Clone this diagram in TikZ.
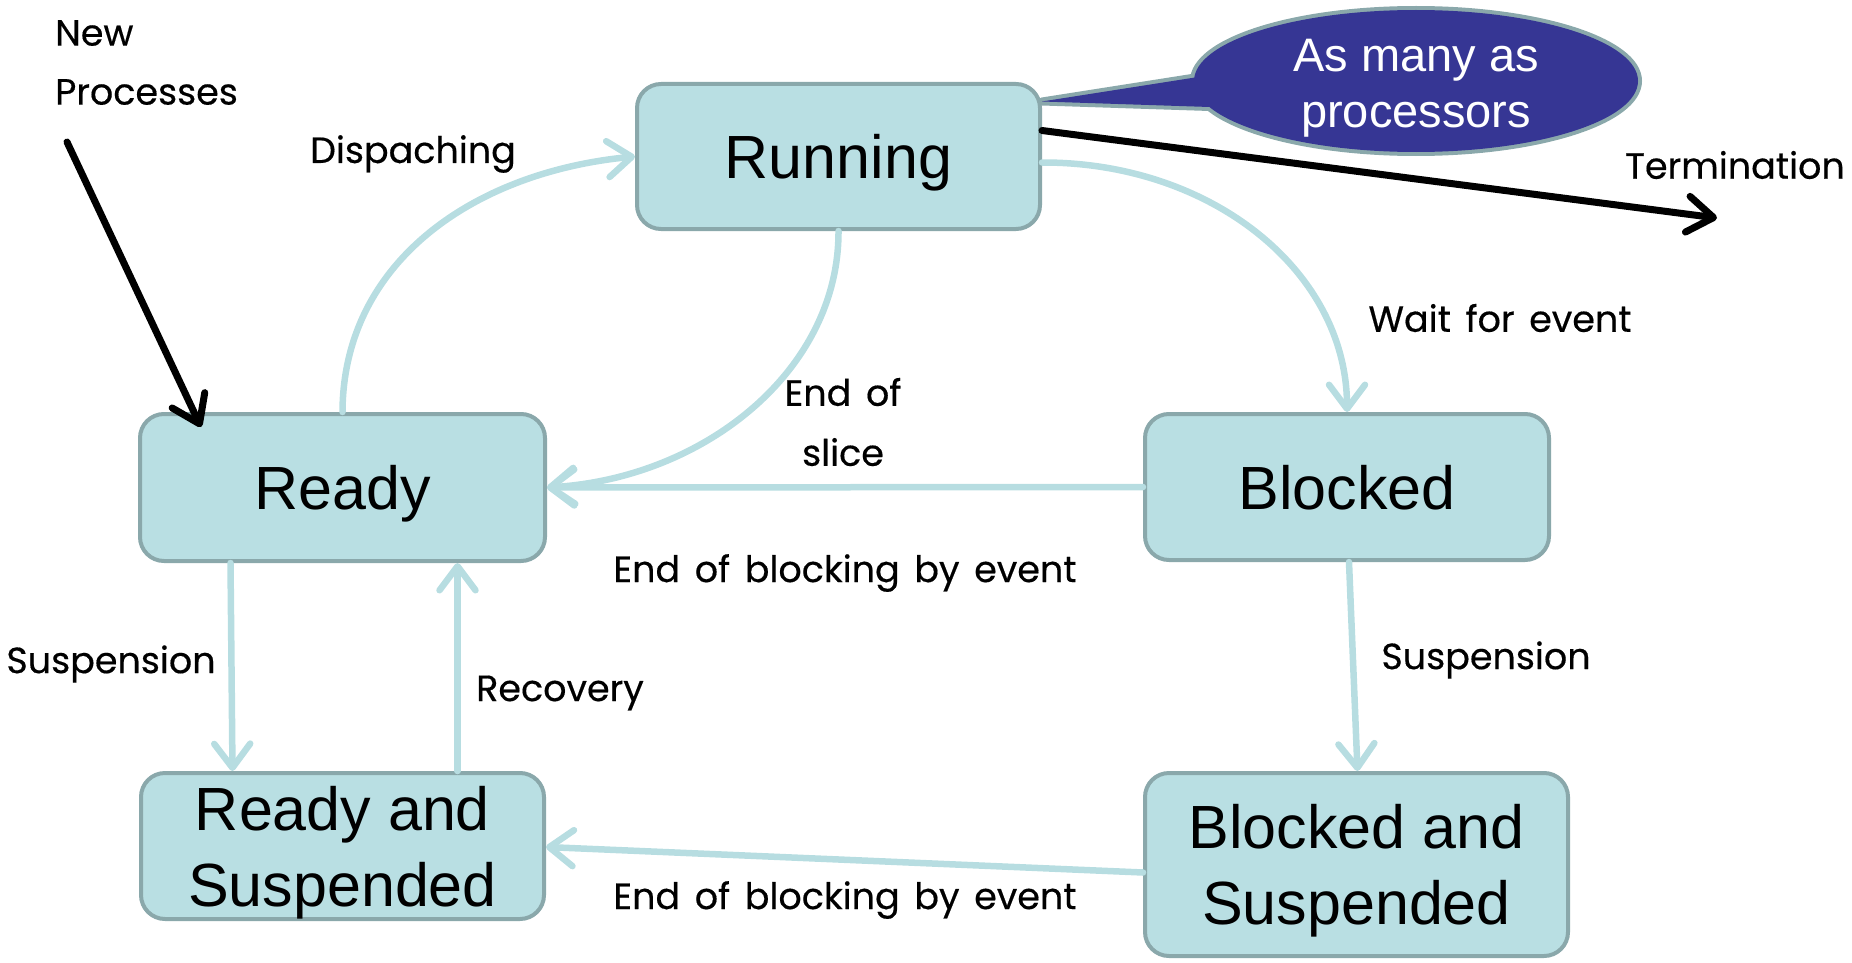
\documentclass[tikz,border=0pt]{standalone}
\usepackage{fontspec}
\usetikzlibrary{arrows.meta,calc}
\newfontfamily\statefont{Liberation Sans}
\newfontfamily\labelfont{Poppins}[WordSpace=1.5,FakeBold=0.4]
\definecolor{boxfill}{HTML}{B9DFE3}
\definecolor{boxline}{HTML}{8AA8AB}
\definecolor{flow}{HTML}{B7DDE1}
\definecolor{bubble}{HTML}{363694}
\begin{document}
\begin{tikzpicture}[x=1pt,y=-1pt,
  state/.style={draw=boxline, fill=boxfill, line width=4pt, rounded corners=24pt,
    font=\statefont\fontsize{61}{76}\selectfont, align=center, inner sep=0pt,
    text depth=0pt},
  flowarrow/.style={draw=flow, line width=6.5pt, line cap=round,
    -{Straight Barb[length=24pt,width=36pt,line cap=round,line join=round]}},
  blackarrow/.style={draw=black, line width=7pt, line cap=round,
    -{Straight Barb[length=26pt,width=36pt,line cap=round,line join=round]}},
  edgelabel/.style={font=\labelfont\fontsize{36.5}{60}\selectfont, inner sep=0pt, align=center}]
\useasboundingbox (0,0) rectangle (1852,963);

% states
\node[state, minimum width=403pt, minimum height=145pt] (running) at (838.5,156.5) {Running};
\node[state, minimum width=405pt, minimum height=147pt] (ready) at (342.5,487.5) {Ready};
\node[state, minimum width=404pt, minimum height=146pt] (blocked) at (1347,487) {Blocked};
\node[state, minimum width=403pt, minimum height=146pt] (rs) at (342.5,846) {Ready and\\Suspended};
\node[state, minimum width=423pt, minimum height=183pt] (bs) at (1356.5,864.5) {Blocked and\\Suspended};

% callout bubble: thick outline first, then the fill on top
\coordinate (tip) at ($(running.east)+(0,-55)$);
\path[draw=boxline, line width=8pt, line join=round, fill=boxline]
  (1416,81) ellipse [x radius=222, y radius=71]
  (tip) -- (1230,72) -- (1240,108) -- cycle;
\fill[bubble] (1416,81) ellipse [x radius=222, y radius=71]
  (tip) -- (1230,72) -- (1240,108) -- cycle;
\node[font=\statefont\fontsize{47}{56}\selectfont, text=white, align=center, inner sep=0pt]
  (bubbletext) at (1416,88.5) {As many as\\processors};

% transitions
\draw[flowarrow] (ready.north) .. controls (343,262) and (474,172) .. (running.west);
\draw[flowarrow] (running.south) .. controls (839,370) and (705,478) .. (ready.east);
\draw[flowarrow] ($(running.east)+(0,6)$) .. controls (1212,162) and (1347,272) .. (blocked.north);
\draw[flowarrow] (blocked.west) -- (ready.east);
\draw[flowarrow] ($(ready.south)+(-112,0)$) -- ($(rs.north)+(-110,0)$);
\draw[flowarrow] ($(rs.north)+(115,0)$) -- ($(ready.south)+(115,0)$);
\draw[flowarrow] ($(blocked.south)+(2,0)$) -- ($(bs.north)+(1,0)$);
\draw[flowarrow] ($(bs.west)+(0,8)$) -- ($(rs.east)+(0,1)$);

\coordinate (newsrc) at (67,142);
\coordinate (term) at (1717,218);
\draw[blackarrow] (newsrc) -- ($(ready.north west)+(63,15)$);
\draw[blackarrow] ($(running.east)+(0,-26)$) -- (term);

% labels
\node[edgelabel, anchor=west, align=left, font=\labelfont\fontsize{36.5}{59}\selectfont] (newlbl) at (55,62.5) {New\\Processes};
\node[edgelabel] (displbl) at (413,154) {Dispaching};
\node[edgelabel] (termlbl) at (1735,165) {Termination};
\node[edgelabel] (waitlbl) at (1500,318) {Wait for event};
\node[edgelabel] (slicelbl) at (843,422) {End of\\slice};
\node[edgelabel] (unblocklbl) at (845,573) {End of blocking by event};
\node[edgelabel] (susplbl) at (111,664) {Suspension};
\node[edgelabel] (recovlbl) at (560,693) {Recovery};
\node[edgelabel] (susp2lbl) at (1486,660) {Suspension};
\node[edgelabel] (unblock2lbl) at (845,900) {End of blocking by event};
\end{tikzpicture}
\end{document}
